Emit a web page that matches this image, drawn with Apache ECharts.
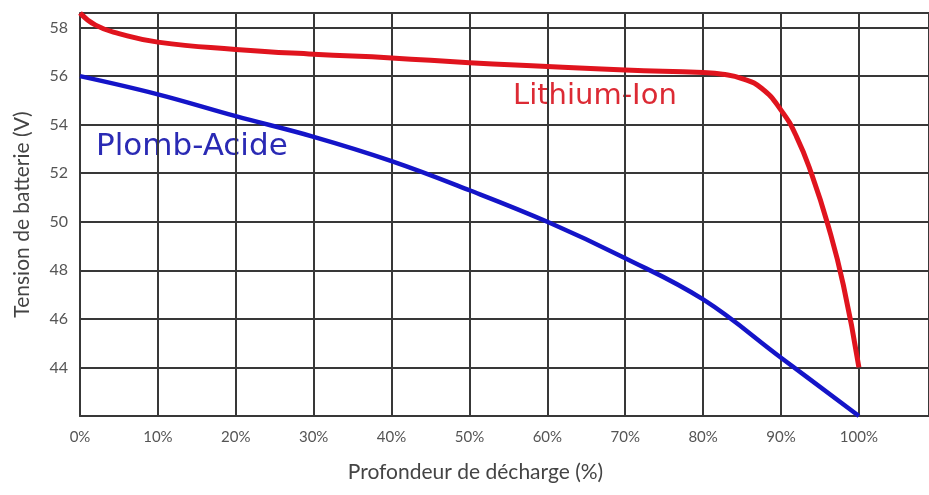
<!DOCTYPE html>
<html>
<head>
<meta charset="utf-8">
<script src="https://cdn.jsdelivr.net/npm/echarts@6/dist/echarts.min.js"></script>
<style>
html,body{margin:0;padding:0;background:#fff;}
#c{width:929px;height:495px;}
</style>
</head>
<body>
<div id="c"></div>
<script>
// Data
const liionDepth = [0, 2, 5, 10, 20, 30, 40, 50, 60, 70, 80, 82.5, 85, 87.5, 90, 92, 94, 96, 98, 100];
const liionVolt  = [58.6, 58.1, 57.75, 57.4, 57.1, 56.9, 56.75, 56.55, 56.4, 56.25, 56.15, 56.08, 55.9, 55.5, 54.6, 53.5, 51.9, 49.9, 47.4, 44.0];
const leadDepth = [0, 10, 20, 30, 40, 50, 60, 70, 80, 90, 100];
const leadVolt  = [56.0, 55.25, 54.35, 53.5, 52.5, 51.3, 50.0, 48.5, 46.8, 44.4, 42.0];
const yTicks = [44, 46, 48, 50, 52, 54, 56, 58];
const xTicks = [0, 10, 20, 30, 40, 50, 60, 70, 80, 90, 100];
const seriesNames = ['Lithium-Ion', 'Plomb-Acide'];
const xTitle = 'Profondeur de décharge (%)';
const yTitle = 'Tension de batterie (V)';

const FONT = 'Lato, "Open Sans", "DejaVu Sans", sans-serif';
const LFONT = '"DejaVu Sans", sans-serif';
const gridColor = '#383838';

const chart = echarts.init(document.getElementById('c'));
chart.setOption({
  animation: false,
  backgroundColor: '#ffffff',
  grid: { left: 80, right: 0, top: 13, bottom: 79, containLabel: false, outerBoundsMode: 'none' },
  xAxis: {
    type: 'value', min: 0, max: 109, interval: 10,
    axisLine: { show: true, lineStyle: { color: gridColor, width: 2 } },
    axisTick: { show: false },
    splitLine: { show: true, lineStyle: { color: gridColor, width: 2 } },
    axisLabel: {
      color: '#555', fontSize: 15, fontFamily: FONT, margin: 14,
      formatter: v => xTicks.indexOf(v) >= 0 ? v + '%' : ''
    },
    name: xTitle, nameLocation: 'middle', nameGap: 46,
    nameTextStyle: { color: '#444', fontSize: 21, fontFamily: FONT, padding: [0, 58, 0, 0] }
  },
  yAxis: {
    type: 'value', min: 42, max: 58.6, interval: 2,
    axisLine: { show: true, lineStyle: { color: gridColor, width: 2 } },
    axisTick: { show: false },
    splitLine: { show: true, lineStyle: { color: gridColor, width: 2 } },
    axisLabel: {
      color: '#555', fontSize: 16, fontFamily: FONT, margin: 12,
      formatter: v => yTicks.indexOf(v) >= 0 ? String(v) : ''
    },
    name: yTitle, nameLocation: 'middle', nameGap: 47, nameRotate: 90,
    nameTextStyle: { color: '#444', fontSize: 21, fontFamily: FONT }
  },
  series: [
    {
      name: seriesNames[0], type: 'line', smooth: 0.5,
      symbol: 'none', clip: false,
      lineStyle: { color: '#e0141e', width: 5 },
      data: liionDepth.map((d, i) => [d, liionVolt[i]])
    },
    {
      name: seriesNames[1], type: 'line', smooth: 0.4,
      symbol: 'none', clip: false,
      lineStyle: { color: '#1414c8', width: 4.5 },
      data: leadDepth.map((d, i) => [d, leadVolt[i]])
    }
  ],
  graphic: [
    { type: 'text', left: 513, top: 82, style: { text: seriesNames[0], fill: '#dc2a34', font: '29px ' + LFONT } },
    { type: 'text', left: 96, top: 131, style: { text: seriesNames[1], fill: '#2a2ab4', font: '31px ' + LFONT } }
  ]
});
</script>
</body>
</html>
